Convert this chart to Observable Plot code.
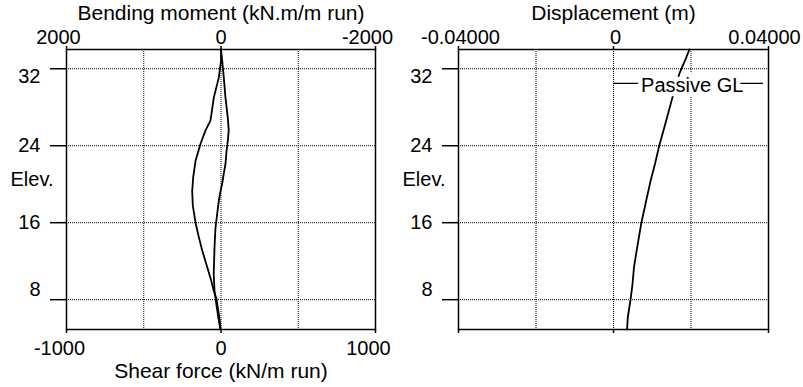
<!DOCTYPE html>
<html><head><meta charset="utf-8">
<script src="https://cdn.jsdelivr.net/npm/d3@7"></script>
<script src="https://cdn.jsdelivr.net/npm/@observablehq/plot@0.6"></script>
<style>
body{margin:0;background:#fff;}
#wrap{position:relative;width:803px;height:387px;overflow:hidden;}
#wrap svg{position:absolute;top:0;}
</style></head><body><div id="wrap"></div>
<script>
// ---- data ----
const elevDomain = [4.9, 34];
const elevTicks = [8, 16, 24, 32];
const momentTicks = [2000, 0, -2000];
const shearTicks = [-1000, 0, 1000];
const dispTicks = [-0.04, 0, 0.04];
const shearGrid = [-500, 0, 500];
const dispGrid = [-0.02, 0, 0.02];

const momentElev = [34, 32.8, 31.1, 29.0, 26.6, 25.6, 24.2, 22.4, 20.7, 19.3, 17.8, 16.0, 14.5, 13.1, 11.4, 10.0, 8.9, 8.1, 6.9, 5.8, 4.9];
const momentVal  = [0, 0, 28, 93, 136, 200, 265, 330, 360, 373, 365, 330, 287, 243, 179, 127, 93, 58, 36, 16, 6];

const shearElev = [34, 32.8, 31.1, 29.0, 26.9, 25.6, 24.5, 23.5, 22.1, 21.1, 20.1, 19.3, 18.3, 16.9, 15.4, 13.4, 10.7, 8.9, 7.4, 6.0, 4.9];
const shearVal  = [0, 8, 18, 29, 44, 50, 44, 36, 29, 18, 8, -3, -14, -25, -36, -42, -47, -42, -29, -16, -3];

const dispElev = [34, 33, 31.6, 29, 26.3, 24, 22.1, 20.4, 18.6, 16, 13.4, 11.4, 9.6, 8, 6.2, 4.9];
const dispVal  = [0.0196, 0.0186, 0.0171, 0.0152, 0.0134, 0.0118, 0.0107, 0.0096, 0.0086, 0.0072, 0.0061, 0.0053, 0.0049, 0.0044, 0.0037, 0.0035];

const passiveGL = 30.47;
const passiveLabel = "Passive GL";
const passiveLineX = [0, 0.0387];
const passiveLabelX = 0.0066;

const momentTitle = "Bending moment (kN.m/m run)";
const shearTitle = "Shear force (kN/m run)";
const dispTitle = "Displacement (m)";
const elevLabel = "Elev.";

// ---- tables ----
const moment = momentElev.map((e, i) => ({e, v: momentVal[i]}));
const shear = shearElev.map((e, i) => ({e, v: shearVal[i]}));
const disp = dispElev.map((e, i) => ({e, v: dispVal[i]}));

const style = {fontFamily: "'Liberation Sans', Arial, sans-serif", fontSize: "20px", background: "transparent", color: "black", overflow: "visible"};
const dotted = {stroke: "black", strokeOpacity: 1, strokeDasharray: "1,1", strokeWidth: 1};
const fmt = d => String(d);

function yAxisMarks() {
  return [
    Plot.axisY(elevTicks, {anchor: "left", tickSize: 16, fill: "none", strokeWidth: 1.5, label: null}),
    Plot.axisY([16, 24], {anchor: "left", tickSize: 0, tickPadding: 26, label: null}),
    Plot.axisY([32], {anchor: "left", tickSize: 0, tickPadding: 26, dy: 8, label: null}),
    Plot.axisY([8], {anchor: "left", tickSize: 0, tickPadding: 26, dy: -10, label: null}),
    Plot.text([elevLabel], {frameAnchor: "left", textAnchor: "start", dx: -56, dy: -10})
  ];
}

const wrap = document.getElementById("wrap");

// Left panel base: shear force scale
const left = Plot.plot({
  width: 400, height: 387, marginTop: 49, marginBottom: 58, marginLeft: 66, marginRight: 25,
  style,
  x: {domain: [-1000, 1000], label: null},
  y: {domain: elevDomain, label: null},
  marks: [
    Plot.gridX(shearGrid, dotted),
    Plot.gridY(elevTicks, dotted),
    Plot.frame({stroke: "black", strokeWidth: 1.5}),
    Plot.axisX(shearTicks, {anchor: "bottom", tickSize: 4, fill: "none", strokeWidth: 1.5, label: null}),
    Plot.axisX([0], {anchor: "bottom", tickSize: 0, tickPadding: 11, label: null, tickFormat: fmt}),
    Plot.axisX([-1000, 1000], {anchor: "bottom", tickSize: 0, tickPadding: 11, dx: -7, label: null, tickFormat: fmt}),
    ...yAxisMarks(),
    Plot.line(shear, {x: "v", y: "e", stroke: "black", strokeWidth: 1.8}),
    Plot.text([shearTitle], {frameAnchor: "bottom", lineAnchor: "bottom", dy: 48, fontSize: 21})
  ]
});
left.style.left = "0px";
wrap.appendChild(left);

// Left panel overlay: bending moment scale (reversed)
const leftTop = Plot.plot({
  width: 400, height: 387, marginTop: 49, marginBottom: 58, marginLeft: 66, marginRight: 25,
  style,
  x: {domain: [2000, -2000], label: null},
  y: {domain: elevDomain, label: null, axis: null},
  marks: [
    Plot.axisX(momentTicks, {anchor: "top", tickSize: 4, fill: "none", strokeWidth: 1.5, label: null}),
    Plot.axisX([0], {anchor: "top", tickSize: 0, tickPadding: 6, label: null, tickFormat: fmt}),
    Plot.axisX([2000, -2000], {anchor: "top", tickSize: 0, tickPadding: 6, dx: -8, label: null, tickFormat: fmt}),
    Plot.line(moment, {x: "v", y: "e", stroke: "black", strokeWidth: 1.8}),
    Plot.text([momentTitle], {frameAnchor: "top", lineAnchor: "bottom", dy: -30, fontSize: 21})
  ]
});
leftTop.style.left = "0px";
wrap.appendChild(leftTop);

// Right panel: displacement
const dispFmt = d => d === 0 ? "0" : d.toFixed(5);
const right = Plot.plot({
  width: 403, height: 387, marginTop: 49, marginBottom: 58, marginLeft: 58, marginRight: 35,
  style,
  x: {domain: [-0.04, 0.04], label: null},
  y: {domain: elevDomain, label: null},
  marks: [
    Plot.gridX(dispGrid, dotted),
    Plot.gridY(elevTicks, dotted),
    Plot.frame({stroke: "black", strokeWidth: 1.5}),
    Plot.axisX(dispTicks, {anchor: "top", tickSize: 4, fill: "none", strokeWidth: 1.5, label: null}),
    Plot.axisX([-0.04, 0], {anchor: "top", tickSize: 0, tickPadding: 6, dx: 2, label: null, tickFormat: dispFmt}),
    Plot.axisX([0.04], {anchor: "top", tickSize: 0, tickPadding: 6, dx: -4, label: null, tickFormat: dispFmt}),
    Plot.axisX(dispTicks, {anchor: "bottom", tickSize: 4, fill: "none", strokeWidth: 1.5, label: null}),
    ...yAxisMarks(),
    Plot.line(disp, {x: "v", y: "e", stroke: "black", strokeWidth: 1.8}),
    Plot.ruleY([passiveGL], {x1: passiveLineX[0], x2: passiveLineX[1], stroke: "black", strokeWidth: 1.2}),
    Plot.text([passiveLabel], {x: passiveLabelX, y: passiveGL, textAnchor: "start", dx: 2, dy: 2, stroke: "white", strokeWidth: 9, fill: "black", paintOrder: "stroke"}),
    Plot.text([dispTitle], {frameAnchor: "top", lineAnchor: "bottom", dy: -30, fontSize: 21})
  ]
});
right.style.left = "400px";
wrap.appendChild(right);
</script>
</body></html>
